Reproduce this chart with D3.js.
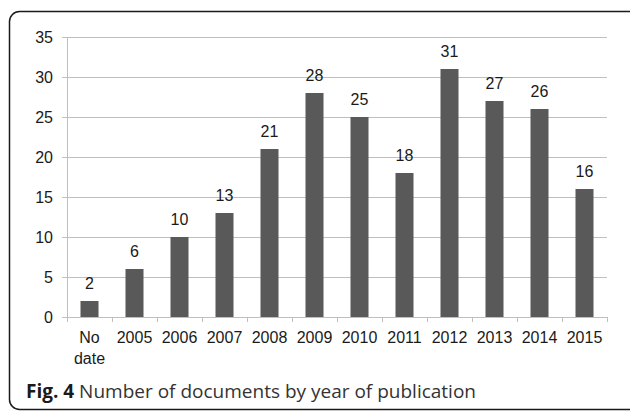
<!DOCTYPE html>
<html>
<head>
    <script src="https://d3js.org/d3.v7.min.js"></script>
    <style>
        body { margin: 0; background-color: #ffffff; }
    </style>
</head>
<body>
    <svg id="chart" width="630" height="411"></svg>
    <script>
        // chart data
        var categories = ["No date", "2005", "2006", "2007", "2008", "2009", "2010", "2011", "2012", "2013", "2014", "2015"];
        var counts = [2, 6, 10, 13, 21, 28, 25, 18, 31, 27, 26, 16];
        var yTicks = [0, 5, 10, 15, 20, 25, 30, 35];

        var svg = d3.select("#chart");
        var plotLeft = 67, plotRight = 607, plotTop = 37, plotBottom = 317;
        var labelFont = "Liberation Sans, Arial, sans-serif";

        // frame around the figure
        svg.append("rect")
            .attr("x", 9.5).attr("y", 11.5)
            .attr("width", 630).attr("height", 398)
            .attr("rx", 10).attr("ry", 10)
            .attr("fill", "none")
            .attr("stroke", "#1a1a1a")
            .attr("stroke-width", 1.5);

        var xScale = d3.scaleBand()
            .domain(categories)
            .range([plotLeft, plotRight])
            .paddingInner(0.6)
            .paddingOuter(0.3);
        var yScale = d3.scaleLinear()
            .domain([0, 35])
            .range([plotBottom, plotTop]);

        // gridlines
        svg.append("g")
            .selectAll("line")
            .data(yTicks)
            .enter().append("line")
            .attr("x1", plotLeft - 5).attr("x2", plotRight)
            .attr("y1", function (d) { return yScale(d) + 0.5; })
            .attr("y2", function (d) { return yScale(d) + 0.5; })
            .attr("stroke", "#bfbfbf")
            .attr("stroke-width", 1);

        // y axis line
        svg.append("line")
            .attr("x1", plotLeft + 0.5).attr("x2", plotLeft + 0.5)
            .attr("y1", plotTop).attr("y2", plotBottom)
            .attr("stroke", "#bfbfbf");

        // y tick labels
        svg.append("g")
            .selectAll("text")
            .data(yTicks)
            .enter().append("text")
            .attr("x", 53)
            .attr("y", function (d) { return yScale(d) + 6; })
            .attr("text-anchor", "end")
            .style("font-family", labelFont)
            .style("font-size", "16px")
            .style("fill", "#1a1a1a")
            .text(function (d) { return d; });

        // x category ticks
        var bounds = d3.range(categories.length + 1).map(function (i) {
            return plotLeft + i * (plotRight - plotLeft) / categories.length;
        });
        svg.append("g")
            .selectAll("line")
            .data(bounds)
            .enter().append("line")
            .attr("x1", function (d) { return Math.round(d) + 0.5; })
            .attr("x2", function (d) { return Math.round(d) + 0.5; })
            .attr("y1", plotBottom).attr("y2", plotBottom + 5)
            .attr("stroke", "#bfbfbf");

        // bars
        svg.append("g")
            .selectAll("rect")
            .data(counts)
            .enter().append("rect")
            .attr("x", function (d, i) { return xScale(categories[i]); })
            .attr("y", function (d) { return yScale(d); })
            .attr("width", xScale.bandwidth())
            .attr("height", function (d) { return plotBottom - yScale(d); })
            .attr("fill", "#595959");

        // value labels
        svg.append("g")
            .selectAll("text")
            .data(counts)
            .enter().append("text")
            .attr("x", function (d, i) { return xScale(categories[i]) + xScale.bandwidth() / 2; })
            .attr("y", function (d) { return yScale(d) - 12; })
            .attr("text-anchor", "middle")
            .style("font-family", labelFont)
            .style("font-size", "16px")
            .style("fill", "#1a1a1a")
            .text(function (d) { return d; });

        // x labels
        var xl = svg.append("g")
            .selectAll("text")
            .data(categories)
            .enter().append("text")
            .attr("x", function (d) { return xScale(d) + xScale.bandwidth() / 2; })
            .attr("y", 343)
            .attr("text-anchor", "middle")
            .style("font-family", labelFont)
            .style("font-size", "16px")
            .style("fill", "#1a1a1a");
        xl.each(function (d) {
            var words = d.split(" ");
            var t = d3.select(this);
            words.forEach(function (w, i) {
                t.append("tspan")
                    .attr("x", t.attr("x"))
                    .attr("dy", i === 0 ? 0 : 21)
                    .text(w);
            });
        });

        // caption
        var cap = svg.append("text")
            .attr("x", 26)
            .attr("y", 398)
            .style("font-family", "Open Sans, sans-serif")
            .style("font-size", "19px")
            .style("fill", "#333333");
        cap.append("tspan").style("font-weight", "bold").style("fill", "#1a1a1a").text("Fig. 4");
        cap.append("tspan").text(" Number of documents by year of publication");
    </script>
</body>
</html>
